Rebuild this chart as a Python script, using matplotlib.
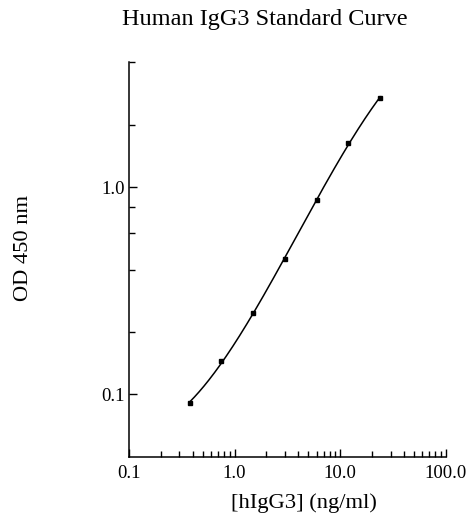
import matplotlib

matplotlib.use("Agg")
import matplotlib.pyplot as plt
import numpy as np
from matplotlib.ticker import FixedLocator, FixedFormatter, NullFormatter

plt.rcParams["font.family"] = ["Liberation Serif", "DejaVu Serif"]

# standard points
conc = [0.375, 0.75, 1.5, 3.0, 6.0, 12.0, 24.0]
od = [0.091, 0.144, 0.246, 0.448, 0.868, 1.64, 2.70]

x_ticks = [0.1, 1.0, 10.0, 100.0]
x_tick_labels = ["0.1", "1.0", "10.0", "100.0"]
y_ticks = [0.1, 1.0]
y_tick_labels = ["0.1", "1.0"]
y_minor = [0.2, 0.4, 0.6, 0.8, 2.0, 4.0]

# smooth fitted curve (cubic in log-log space)
lx, ly = np.log10(conc), np.log10(od)
coef = np.polyfit(lx, ly, 3)
xf = np.linspace(lx[0], lx[-1], 200)
yf = np.polyval(coef, xf)

fig = plt.figure(figsize=(4.68, 5.14), dpi=100)
ax = fig.add_axes([129 / 468, 1 - 456.7 / 514, 316.7 / 468, 394.4 / 514])
ax.plot(10 ** xf, 10 ** yf, color="black", lw=1.1)
ax.plot(conc, od, "s", color="black", ms=3.2)

ax.set_xscale("log")
ax.set_yscale("log")
ax.set_xlim(0.1, 100)
ax.set_ylim(0.05, 4.0)
for side in ["top", "right"]:
    ax.spines[side].set_visible(False)
for side in ["left", "bottom"]:
    ax.spines[side].set_linewidth(1.1)

ax.xaxis.set_major_locator(FixedLocator(x_ticks))
ax.xaxis.set_major_formatter(FixedFormatter(x_tick_labels))
ax.xaxis.set_minor_formatter(NullFormatter())
ax.yaxis.set_major_locator(FixedLocator(y_ticks))
ax.yaxis.set_major_formatter(FixedFormatter(y_tick_labels))
ax.yaxis.set_minor_locator(FixedLocator(y_minor))
ax.yaxis.set_minor_formatter(NullFormatter())
ax.tick_params(which="both", direction="in", width=1.0, labelsize=13.5)
ax.tick_params(axis="x", which="both", pad=6)
ax.tick_params(axis="y", which="both", pad=3)
ax.tick_params(which="major", length=6)
ax.tick_params(which="minor", length=4)

fig.text(264.5 / 468, 1 - 19 / 514, "Human IgG3 Standard Curve", ha="center",
         va="center", fontsize=17.5)
fig.text(304 / 468, 1 - 503 / 514, "[hIgG3] (ng/ml)", ha="center",
         va="center", fontsize=16.2)
fig.text(24 / 468, 1 - 248 / 514, "OD 450 nm", ha="center", va="center",
         rotation=90, fontsize=16.2)

fig.savefig("out.png", dpi=100)
